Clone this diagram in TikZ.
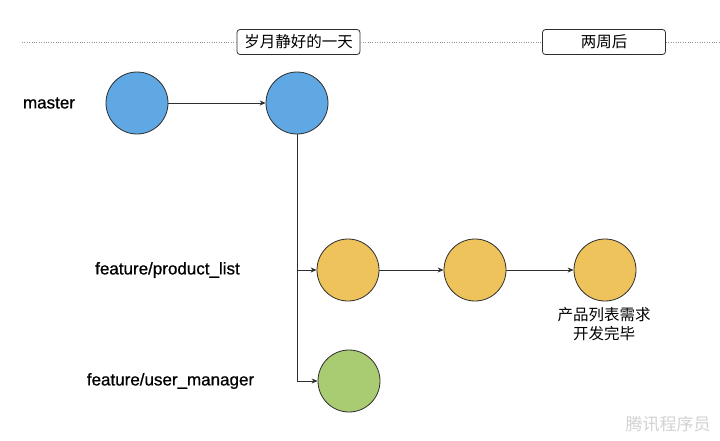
\documentclass[tikz,border=0pt]{standalone}
\usepackage{fontspec}
\setmainfont{Liberation Sans}
\newfontfamily\cjk{Noto Sans CJK SC}
\newfontface\lblfont{Liberation Sans}[FakeBold=0.8]
\usetikzlibrary{arrows.meta}
\definecolor{blueC}{HTML}{5FA8E3}
\definecolor{yelC}{HTML}{EEC35C}
\definecolor{greenC}{HTML}{A9CC72}
\definecolor{edgeC}{HTML}{2E2E2E}
\begin{document}
\begin{tikzpicture}[x=1pt,y=-1pt,
  commit/.style={circle,draw=edgeC,line width=0.8pt,minimum size=62pt,inner sep=0pt},
  lbl/.style={font=\lblfont\fontsize{17}{19}\selectfont,text=black},
  tbox/.style={draw=edgeC,line width=0.8pt,rounded corners=3pt,minimum width=123pt,minimum height=25pt,inner sep=0pt,font=\cjk\fontsize{15.5}{17}\selectfont},
  dotline/.style={draw=gray!85,line width=0.8pt,dash pattern=on 0.8pt off 1.6pt},
  arr/.style={draw=edgeC,line width=0.7pt,-{Stealth[length=6pt,width=5pt]}},
  ln/.style={draw=edgeC,line width=0.7pt}]
\useasboundingbox (0,0) rectangle (720,440);
\fill[white] (0,0) rectangle (720,440);
% timeline
\node[tbox] (day) at (298.5,42) {岁月静好的一天};
\node[tbox] (two) at (604,42) {两周后};
\coordinate (tl0) at (22,42);
\coordinate (tl1) at (720,42);
\draw[dotline] (tl0) -- (day.west);
\draw[dotline] (day.east) -- (two.west);
\draw[dotline] (two.east) -- (tl1);
% labels
\node[lbl] (lm) at (49,103) {master};
\node[lbl] (lp) at (167.5,270) {feature/product\_list};
\node[lbl] (lu) at (170.5,381) {feature/user\_manager};
% commits
\node[commit,fill=blueC] (m1) at (137,103) {};
\node[commit,fill=blueC] (m2) at (297,103) {};
\node[commit,fill=yelC] (p1) at (348,270) {};
\node[commit,fill=yelC] (p2) at (475,270) {};
\node[commit,fill=yelC] (p3) at (605,270) {};
\node[commit,fill=greenC] (u1) at (349,381) {};
\node[font=\cjk\fontsize{15.5}{18.5}\selectfont,align=center,anchor=north] (done) at (604,304) {产品列表需求\\开发完毕};
% connectors
\coordinate (bp) at (297,270);
\coordinate (bu) at (297,381);
\draw[arr] (m1) -- (m2);
\draw[ln] (m2.south) -- (bu);
\draw[arr] (bp) -- (p1.west);
\draw[arr] (bu) -- (u1.west);
\draw[arr] (p1) -- (p2);
\draw[arr] (p2) -- (p3);
% watermark
\node[font=\cjk\fontsize{17}{18}\selectfont,text=gray!35] (wm) at (668,424) {腾讯程序员};
\end{tikzpicture}
\end{document}
